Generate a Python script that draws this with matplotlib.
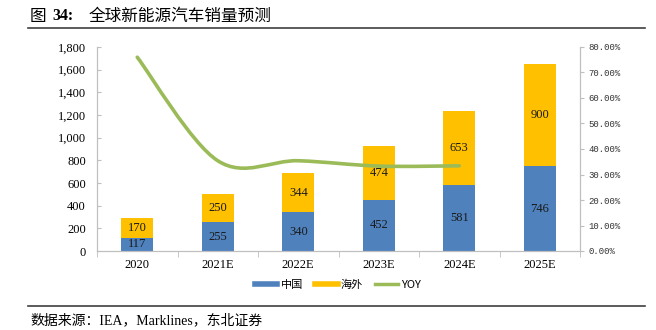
import matplotlib
matplotlib.use('Agg')
import matplotlib.pyplot as plt
from matplotlib.lines import Line2D
from matplotlib.patches import PathPatch
from matplotlib.path import Path
from matplotlib.ticker import FuncFormatter

years = ['2020', '2021E', '2022E', '2023E', '2024E', '2025E']
china = [117, 255, 340, 452, 581, 746]
overseas = [170, 250, 344, 474, 653, 900]
yoy = [76.0, 35.4, 35.4, 33.3, 33.4]  # %, one point less than years

BLUE = '#4F81BD'
GOLD = '#FFC000'
GREEN = '#9BBB59'
GREY = '#BFBFBF'
SERIF = ['Liberation Serif', 'Noto Sans CJK SC']
CJK = ['Noto Sans CJK SC', 'DejaVu Sans']


def smooth_path(xs, ys):
    # excel style smoothed line: catmull-rom turned into cubic bezier segments
    pts = list(zip(xs, ys))
    n = len(pts)
    verts = [pts[0]]
    codes = [Path.MOVETO]
    for i in range(n - 1):
        p0 = pts[max(i - 1, 0)]
        p1 = pts[i]
        p2 = pts[i + 1]
        p3 = pts[min(i + 2, n - 1)]
        c1 = (p1[0] + (p2[0] - p0[0]) / 6, p1[1] + (p2[1] - p0[1]) / 6)
        c2 = (p2[0] - (p3[0] - p1[0]) / 6, p2[1] - (p3[1] - p1[1]) / 6)
        verts += [c1, c2, p2]
        codes += [Path.CURVE4] * 3
    return Path(verts, codes)


fig = plt.figure(figsize=(6.56, 3.30), dpi=100)
ax = fig.add_axes([97 / 656, 1 - 251 / 330, 483 / 656, 204 / 330])
ax2 = ax.twinx()

x = list(range(len(years)))
ax.bar(x, china, width=0.4, color=BLUE, zorder=2)
ax.bar(x, overseas, width=0.4, bottom=china, color=GOLD, zorder=2)

for i in x:
    ax.text(i, china[i] / 2, str(china[i]), ha='center', va='center',
            fontsize=9, family=SERIF, color='#1a1a1a')
    ax.text(i, china[i] + overseas[i] / 2, str(overseas[i]), ha='center',
            va='center', fontsize=9, family=SERIF, color='#1a1a1a')

ax.set_xlim(-0.5, len(years) - 0.5)
ax.set_ylim(0, 1800)
ax.set_yticks(range(0, 1801, 200))
ax.yaxis.set_major_formatter(FuncFormatter(lambda v, p: f'{int(v):,}'))
ax.set_xticks(x)
ax.set_xticklabels(years)
ax.set_xticks([i - 0.5 for i in range(len(years) + 1)], minor=True)
ax.tick_params(axis='x', which='major', length=0, pad=6)
ax.tick_params(axis='x', which='minor', length=4, direction='out', color=GREY)
ax.tick_params(axis='y', length=3, direction='in', color=GREY, pad=8)
for lab in ax.get_xticklabels() + ax.get_yticklabels():
    lab.set_family(SERIF)
    lab.set_fontsize(9)

ax2.set_ylim(0, 80)
ax2.set_yticks(range(0, 81, 10))
ax2.yaxis.set_major_formatter(FuncFormatter(lambda v, p: f'{v:.2f}%'))
ax2.tick_params(axis='y', length=3, direction='out', color=GREY, pad=3)
for lab in ax2.get_yticklabels():
    lab.set_family(['Liberation Mono', 'DejaVu Sans Mono'])
    lab.set_fontsize(6.5)
    lab.set_color('#333333')

line_path = smooth_path(x[:len(yoy)], yoy)
ax2.add_patch(PathPatch(line_path, fill=False, edgecolor=GREEN, lw=2.6,
                        capstyle='round', zorder=3))

for a in (ax, ax2):
    a.spines['top'].set_visible(False)
    for s in ('left', 'right', 'bottom'):
        a.spines[s].set_color(GREY)
        a.spines[s].set_linewidth(0.8)

handles = [Line2D([], [], color=BLUE, lw=4),
           Line2D([], [], color=GOLD, lw=4),
           Line2D([], [], color=GREEN, lw=2.5)]
fig.legend(handles, ['中国', '海外', 'YOY'], loc='center',
           bbox_to_anchor=(338 / 656, 1 - 285 / 330), ncol=3, frameon=False,
           handlelength=2.0, columnspacing=1.1, handletextpad=0.3,
           prop={'family': CJK, 'size': 8})

# title and source
fig.text(30 / 656, 1 - 16 / 330, '图', fontsize=12, family=CJK, va='center')
fig.text(52 / 656, 1 - 16 / 330, '34:', fontsize=11.5, family=SERIF,
         weight='bold', va='center')
fig.text(89 / 656, 1 - 16 / 330, '全球新能源汽车销量预测', fontsize=12,
         family=CJK, va='center')
fig.add_artist(Line2D([28 / 656, 645 / 656], [1 - 28 / 330, 1 - 28 / 330],
                      color='#404040', lw=1.2))
fig.add_artist(Line2D([28 / 656, 645 / 656], [1 - 306 / 330, 1 - 306 / 330],
                      color='#404040', lw=1.2))
fig.text(30 / 656, 1 - 320 / 330, '数据来源：IEA，Marklines，东北证券',
         fontsize=10, family=SERIF, va='center')

fig.savefig('out.png', dpi=100)
